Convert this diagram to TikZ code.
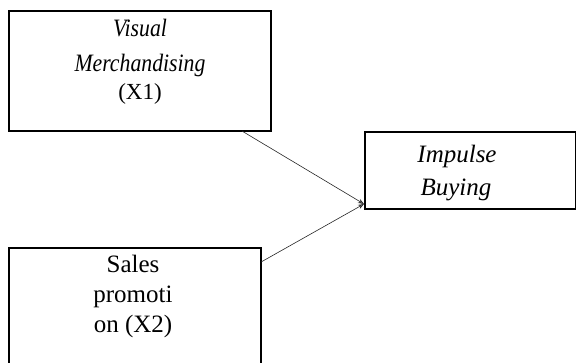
\documentclass[tikz,border=0pt]{standalone}
\usepackage{fontspec}
\setmainfont{Liberation Serif}
\newfontfamily\narrowit[FakeStretch=0.87]{Liberation Serif Italic}
\usetikzlibrary{arrows.meta,calc}
\begin{document}
\begin{tikzpicture}[x=1pt,y=-1pt,
  boxstyle/.style={draw=black,line width=1.1pt,inner sep=0pt,outer sep=0pt,rectangle},
  txt/.style={anchor=base,inner sep=0pt},
  conn/.style={draw=black!85,line width=0.6pt,-{Stealth[length=6pt,width=4.5pt,open,fill=black!50]}}]
\useasboundingbox (0,0) rectangle (576,362);
% boxes
\node[boxstyle,minimum width=262pt,minimum height=120pt] (topbox) at (140,71) {};
\node[boxstyle,minimum width=211pt,minimum height=77pt] (rightbox) at (470.5,170.5) {};
\node[boxstyle,minimum width=252pt,minimum height=120pt] (botbox) at (135,308) {};
% text top box
\node[txt,font=\fontsize{25}{28}\narrowit] (t1) at (140,36) {Visual};
\node[txt,font=\fontsize{25}{28}\narrowit] (t2) at (140,71) {Merchandising};
\node[txt,font=\fontsize{23}{28}\selectfont] (t3) at (140,99.5) {(X1)};
% text right box
\node[txt,font=\fontsize{25}{30}\selectfont\itshape] (r1) at (457,162) {Impulse};
\node[txt,font=\fontsize{25}{30}\selectfont\itshape] (r2) at (456,195) {Buying};
% text bottom box
\node[txt,font=\fontsize{25}{30}\selectfont] (b1) at (133,272) {Sales};
\node[txt,font=\fontsize{25}{30}\selectfont] (b2) at (133,302) {promoti};
\node[txt,font=\fontsize{25}{30}\selectfont] (b3) at (133,332) {on (X2)};
% connectors
\coordinate (s1) at ($(topbox.south west)!0.889!(topbox.south east)$);
\coordinate (s2) at ($(botbox.north east)!0.117!(botbox.south east)$);
\coordinate (tip) at ($(rightbox.south west)+(-1,-5)$);
\draw[conn] (s1) -- (tip);
\draw[conn] (s2) -- (tip);
\end{tikzpicture}
\end{document}
